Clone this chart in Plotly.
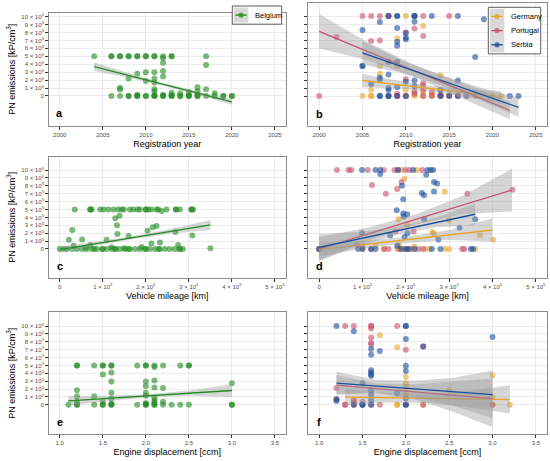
import plotly.graph_objects as go

# ---- data (x, PN emissions) ----
a_belgium = [(2004, 5000), (2006, 5000), (2006, 5000), (2007, 5000), (2007, 5000), (2008, 5000), (2008, 5000),
             (2009, 5000), (2009, 5000), (2010, 5000), (2010, 5000), (2011, 5000), (2011, 5000), (2012, 5000),
             (2013, 5000), (2013, 5000), (2017, 5000),
             (2012, 4800), (2012, 4200), (2012, 3150), (2012, 2450), (2017, 3900), (2008, 2200), (2009, 2800),
             (2010, 3000), (2010, 1900), (2011, 3000), (2011, 2200), (2011, 1700), (2011, 850), (2011, 600),
             (2007, 1050), (2007, 800), (2016, 1100), (2016, 600), (2017, 850), (2018, 350), (2013, 400),
             (2014, 350), (2015, 500),
             (2006, 0), (2007, 0), (2008, 0), (2008, 0), (2009, 0), (2009, 0), (2010, 0), (2010, 0), (2011, 0),
             (2011, 0), (2012, 0), (2012, 0), (2013, 0), (2013, 0), (2014, 0), (2014, 0), (2015, 0), (2015, 0),
             (2016, 0), (2016, 0), (2017, 0), (2018, 0), (2019, 0), (2019, 0), (2020, 0), (2020, 0),
             (2009, 150), (2011, 100), (2012, 150), (2013, 100), (2015, 100), (2016, 200)]

b_germany = [(2010, 10000), (2012, 8800), (2009, 7200), (2007, 3750), (2009, 3750), (2007, 2800), (2006, 800),
             (2010, 750), (2014, 2600), (2012, 500), (2011, 300), (2015, 200), (2016, 100), (2005, 0), (2006, 0),
             (2006, 0), (2010, 0), (2011, 0), (2012, 0), (2013, 0), (2018, 0), (2020, 0), (2021, 0), (2013, 200)]
b_portugal = [(2005, 10000), (2006, 10000), (2007, 10000), (2008, 10000), (2008, 10000), (2011, 10000),
              (2012, 10000), (2015, 10000), (2011, 8450), (2010, 7950), (2002, 7400), (2006, 6900), (2007, 6950),
              (2012, 7500), (2010, 2100), (2012, 1600), (2012, 1300), (2012, 750), (2013, 500), (2011, 600),
              (2000, 0), (2008, 0), (2009, 0), (2009, 0), (2010, 0), (2014, 0), (2014, 0), (2015, 0), (2016, 0),
              (2012, 0), (2013, 0), (2011, 300), (2009, 300), (2014, 250)]
b_serbia = [(2008, 10000), (2009, 10000), (2009, 10000), (2011, 10000), (2011, 10000), (2013, 10000),
            (2016, 10000), (2019, 9600), (2007, 9250), (2011, 9300), (2005, 8250), (2009, 8500), (2009, 6800),
            (2009, 6300), (2010, 7100), (2010, 7300), (2010, 7900), (2018, 4900), (2005, 3750), (2005, 3750),
            (2008, 4300), (2009, 4300), (2007, 2100), (2007, 2300), (2008, 2700), (2006, 1500), (2010, 1800),
            (2011, 1950), (2016, 1950), (2008, 750), (2009, 1100), (2011, 1250), (2014, 750), (2008, 1000),
            (2007, 0), (2007, 0), (2008, 0), (2008, 0), (2016, 0), (2017, 0), (2022, 0), (2023, 0), (2009, 0),
            (2010, 0), (2014, 0), (2015, 0)]

c_belgium = [(35000, 5000), (71000, 5000), (71000, 5000), (74000, 5000), (94000, 5000), (102000, 5000),
             (113000, 5000), (125000, 5000), (136000, 5000), (144000, 5000), (149000, 5000), (163000, 5000),
             (171000, 5000), (181000, 5000), (186000, 5000), (200000, 5000), (200000, 5000), (206000, 5000),
             (213000, 5000), (225000, 5000), (229000, 5000), (248000, 5000), (270000, 5000), (270000, 5000),
             (279000, 5000), (306000, 5000), (306000, 5000), (310000, 5000), (237000, 4800),
             (129000, 3900), (139000, 4200), (133000, 3000), (29000, 2400), (21000, 1150), (52000, 1200),
             (134000, 1900), (160000, 1650), (109000, 1150), (204000, 2300), (216000, 2750), (225000, 2900),
             (213000, 700), (233000, 800), (269000, 2150), (308000, 1700), (275000, 500), (71000, 500),
             (32000, 400), (350000, 100), (279000, 0),
             (0, 0), (9000, 0), (17000, 0), (29000, 0), (40000, 0), (52000, 0), (63000, 0), (75000, 0),
             (86000, 0), (98000, 0), (109000, 0), (121000, 0), (129000, 0), (140000, 0), (152000, 0),
             (163000, 0), (175000, 0), (186000, 0), (198000, 0), (209000, 0), (221000, 0), (232000, 0),
             (244000, 0), (255000, 0), (267000, 0), (278000, 0), (286000, 0), (80000, 0), (100000, 0),
             (130000, 0), (160000, 0), (200000, 0), (230000, 0),
             (60000, 150), (120000, 200), (190000, 250), (150000, 100)]

d_germany = [(190000, 10000), (225000, 10000), (197000, 8900), (290000, 7250), (183000, 3750), (300000, 3650),
             (203000, 3100), (261000, 2150), (265000, 2000), (371000, 1750), (402000, 1150), (130000, 400),
             (100000, 0), (180000, 0), (200000, 0), (210000, 0), (220000, 0), (245000, 0), (255000, 0),
             (290000, 0), (300000, 0), (360000, 0), (150000, 0), (195000, 0), (220000, 300), (185000, 500),
             (0, 0)]
d_portugal = [(41000, 10000), (68000, 10000), (74000, 10000), (112000, 10000), (149000, 10000),
              (174000, 10000), (182000, 10000), (199000, 10000), (208000, 10000), (238000, 10000),
              (190000, 8500), (122000, 8100), (180000, 7600), (154000, 7000), (342000, 7000), (446000, 7500),
              (176000, 2200), (218000, 2200), (87000, 500), (0, 0), (150000, 0), (160000, 0), (185000, 0),
              (210000, 0), (230000, 0), (330000, 0), (335000, 0), (240000, 0), (120000, 0), (100000, 300)]
d_serbia = [(99000, 10000), (130000, 10000), (141000, 10000), (182000, 10000), (217000, 10000), (250000, 10000),
            (257000, 10000), (263000, 10000), (141000, 9500), (247000, 9400), (191000, 8000), (265000, 8500),
            (272000, 8300), (237000, 7100), (242000, 6800), (265000, 7300), (194000, 6300), (179000, 4900),
            (194000, 4500), (203000, 4400), (195000, 4100), (242000, 3800), (360000, 3750), (324000, 2700),
            (204000, 2000), (99000, 2000), (164000, 1700), (197000, 1500), (275000, 1200), (90000, 0),
            (100000, 0), (120000, 0), (190000, 0), (200000, 0), (205000, 0), (260000, 0), (280000, 0),
            (350000, 0), (355000, 0), (130000, 0), (220000, 0), (0, 0), (180000, 400)]

e_belgium = [(1.2, 5000), (1.2, 5000), (1.4, 5000), (1.5, 5000), (1.5, 5000), (1.6, 5000), (1.6, 5000),
             (1.9, 5000), (2.0, 5000), (2.0, 5000), (2.1, 5000), (2.2, 5000), (2.4, 5000), (2.5, 5000),
             (2.5, 5000), (2.1, 4800), (1.5, 3850), (1.6, 4100), (1.6, 2970), (2.0, 2970), (2.0, 2400),
             (2.1, 3100), (2.1, 2200), (2.2, 2150), (3.0, 2750), (1.2, 1850), (1.2, 1100), (1.4, 1100),
             (1.6, 1550), (1.6, 800), (2.0, 1550), (2.0, 1150), (2.1, 900), (2.1, 600), (2.2, 400), (1.5, 400),
             (1.2, 400), (1.1, 0), (1.2, 0), (1.2, 0), (1.4, 0), (1.5, 0), (1.5, 0), (1.6, 0), (1.6, 0),
             (1.9, 0), (2.0, 0), (2.0, 0), (2.1, 0), (2.1, 0), (2.2, 0), (2.3, 0), (2.4, 0), (2.5, 0),
             (3.0, 0), (3.0, 0), (1.6, 150), (2.0, 200), (2.0, 100), (2.1, 300)]

f_germany = [(1.7, 8850), (1.9, 7300), (2.0, 3550), (2.0, 2700), (2.0, 2300), (2.0, 1600), (3.0, 3750),
             (2.5, 1850), (3.0, 1000), (1.4, 500), (1.9, 0), (1.9, 0), (2.0, 0), (2.2, 0), (3.0, 0), (3.2, 0),
             (1.4, 0), (2.0, 1200)]
f_portugal = [(1.3, 10000), (1.4, 10000), (1.6, 10000), (1.6, 10000), (1.9, 10000), (1.6, 9700), (1.6, 8550),
              (1.6, 7900), (1.6, 7650), (2.0, 7000), (2.2, 7400), (1.2, 2150), (1.2, 700), (1.4, 600),
              (1.5, 400), (1.4, 300), (1.3, 0), (1.3, 0), (1.6, 0), (1.7, 0), (2.2, 0), (1.5, 0), (1.4, 0),
              (3.0, 0)]
f_serbia = [(1.2, 10000), (2.0, 10000), (2.0, 10000), (1.4, 9350), (1.6, 7100), (1.6, 6350), (1.7, 6850),
            (2.0, 8350), (2.2, 7400), (3.0, 8600), (2.0, 4950), (2.0, 4300), (1.6, 4400), (1.6, 4100),
            (1.6, 3850), (1.6, 3700), (1.5, 2750), (1.6, 1850), (1.6, 1300), (1.9, 1450), (2.0, 800),
            (1.6, 600), (1.2, 700), (1.4, 0), (1.5, 0), (1.5, 0), (2.0, 0), (2.0, 0), (1.6, 0), (1.2, 500)]

# ---- linear fits with confidence band ----
a_bel_fit = dict(x=[2004, 2008, 2012, 2016, 2020], line=[3700, -750],
                 lo=[3150, 2300, 1300, 150, -1100], hi=[4250, 2900, 1650, 600, -450])
b_ger_fit = dict(x=[2005, 2009, 2013, 2017, 2021], line=[1950, -100],
                 lo=[1100, 950, 600, -100, -850], hi=[2800, 1950, 1250, 900, 650])
b_por_fit = dict(x=[2000, 2005.5, 2011, 2016.5, 2022], line=[8100, -1800],
                 lo=[5950, 4500, 2400, -300, -2900], hi=[10250, 6800, 3900, 1700, -700])
b_ser_fit = dict(x=[2005, 2009.5, 2014, 2018.5, 2023], line=[5400, -1400],
                 lo=[3950, 2900, 1400, -500, -2600], hi=[6850, 4500, 2600, 1100, -200])
c_bel_fit = dict(x=[0, 87500, 175000, 262500, 350000], line=[-100, 3050],
                 lo=[-500, 450, 1280, 1950, 2400], hi=[300, 930, 1680, 2600, 3670])
d_ger_fit = dict(x=[0, 100000, 200000, 300000, 400000], line=[-100, 2400],
                 lo=[-1000, 50, 750, 1150, 900], hi=[800, 1000, 1550, 2400, 3900])
d_por_fit = dict(x=[0, 110000, 220000, 330000, 445000], line=[0, 7470],
                 lo=[-1500, 1000, 3050, 4400, 4750], hi=[1500, 2700, 4350, 6700, 10200])
d_ser_fit = dict(x=[0, 90000, 180000, 270000, 360000], line=[200, 4400],
                 lo=[-1500, 400, 1800, 2750, 3000], hi=[1900, 2100, 2800, 3950, 5800])
e_bel_fit = dict(x=[1.1, 1.575, 2.05, 2.525, 3.0], line=[500, 1820],
                 lo=[-100, 500, 950, 1150, 1000], hi=[1100, 1150, 1370, 1850, 2650])
f_ger_fit = dict(x=[1.3, 1.775, 2.25, 2.725, 3.2], line=[970, 680],
                 lo=[-100, 300, 250, -300, -1100], hi=[2000, 1500, 1400, 1800, 2500])
f_por_fit = dict(x=[1.2, 1.65, 2.1, 2.55, 3.0], line=[2500, 800],
                 lo=[1400, 1500, 700, -900, -2800], hi=[3750, 2700, 2600, 3000, 3350])
f_ser_fit = dict(x=[1.2, 1.65, 2.1, 2.55, 3.0], line=[2750, 1300],
                 lo=[1250, 1600, 1000, -100, -1700], hi=[4200, 3200, 3050, 3450, 4350])

year_ticks = [2000, 2005, 2010, 2015, 2020, 2025]
mileage_ticks = [0, 100000, 200000, 300000, 400000, 500000]
mileage_labels = ["0", "1 × 10<sup>5</sup>", "2 × 10<sup>5</sup>", "3 × 10<sup>5</sup>",
                  "4 × 10<sup>5</sup>", "5 × 10<sup>5</sup>"]
disp_ticks = [1.0, 1.5, 2.0, 2.5, 3.0, 3.5]
pn_ticks = [0, 1000, 2000, 3000, 4000, 5000, 6000, 7000, 8000, 9000, 10000]
pn_labels = ["0", "1 × 10<sup>3</sup>", "2 × 10<sup>3</sup>", "3 × 10<sup>3</sup>", "4 × 10<sup>3</sup>",
             "5 × 10<sup>3</sup>", "6 × 10<sup>3</sup>", "7 × 10<sup>3</sup>", "8 × 10<sup>3</sup>",
             "9 × 10<sup>3</sup>", "10 × 10<sup>3</sup>"]
legend_left = ["Belgium"]
legend_right = ["Germany", "Portugal", "Serbia"]

GREEN = "#228B22"
COLORS = {"Belgium": GREEN, "Germany": "#E8A628", "Portugal": "#C8506C", "Serbia": "#1A4E9E"}
FONT = "Liberation Sans, Arial, sans-serif"
W, H = 550, 461

fig = go.Figure()


def axis_ids(n):
    return ("x" if n == 1 else "x%d" % n), ("y" if n == 1 else "y%d" % n)


def add_points(n, pts, color):
    xa, ya = axis_ids(n)
    fig.add_trace(go.Scatter(x=[p[0] for p in pts], y=[p[1] for p in pts], mode="markers",
                             marker=dict(color=color, size=6, opacity=0.6, line=dict(width=0)),
                             xaxis=xa, yaxis=ya, showlegend=False, hoverinfo="skip"))


def add_fit(n, fit, color):
    xa, ya = axis_ids(n)
    fig.add_trace(go.Scatter(x=fit["x"] + fit["x"][::-1], y=fit["hi"] + fit["lo"][::-1],
                             fill="toself", fillcolor="rgba(153,153,153,0.4)", line=dict(width=0),
                             mode="lines", xaxis=xa, yaxis=ya, showlegend=False, hoverinfo="skip"))
    fig.add_trace(go.Scatter(x=[fit["x"][0], fit["x"][-1]], y=fit["line"], mode="lines",
                             line=dict(color=color, width=1.3), xaxis=xa, yaxis=ya,
                             showlegend=False, hoverinfo="skip"))


# points first, then bands and lines on top (as geom_smooth does)
add_points(1, a_belgium, GREEN)
add_points(2, b_germany, COLORS["Germany"])
add_points(2, b_portugal, COLORS["Portugal"])
add_points(2, b_serbia, COLORS["Serbia"])
add_points(3, c_belgium, GREEN)
add_points(4, d_germany, COLORS["Germany"])
add_points(4, d_portugal, COLORS["Portugal"])
add_points(4, d_serbia, COLORS["Serbia"])
add_points(5, e_belgium, GREEN)
add_points(6, f_germany, COLORS["Germany"])
add_points(6, f_portugal, COLORS["Portugal"])
add_points(6, f_serbia, COLORS["Serbia"])

add_fit(1, a_bel_fit, GREEN)
add_fit(2, b_ger_fit, COLORS["Germany"])
add_fit(2, b_por_fit, COLORS["Portugal"])
add_fit(2, b_ser_fit, COLORS["Serbia"])
add_fit(3, c_bel_fit, GREEN)
add_fit(4, d_ger_fit, COLORS["Germany"])
add_fit(4, d_por_fit, COLORS["Portugal"])
add_fit(4, d_ser_fit, COLORS["Serbia"])
add_fit(5, e_bel_fit, GREEN)
add_fit(6, f_ger_fit, COLORS["Germany"])
add_fit(6, f_por_fit, COLORS["Portugal"])
add_fit(6, f_ser_fit, COLORS["Serbia"])

# panel boxes in pixels: (left, right, top, bottom)
boxes = {1: (49, 285.7, 12.7, 125.7), 2: (308.3, 546.7, 3.3, 125.7),
         3: (49, 285.7, 156.7, 277.7), 4: (308.3, 546.7, 156.7, 277.7),
         5: (49, 285.7, 312.3, 434.0), 6: (308.3, 546.7, 312.3, 434.0)}
x_ranges = {1: [1998.75, 2026.25], 2: [1998.75, 2026.25], 3: [-25000, 525000], 4: [-25000, 525000],
            5: [0.875, 3.625], 6: [0.875, 3.625]}
y_ranges = {1: [-3750, 10500], 2: [-3700, 11600], 3: [-3650, 11700], 4: [-3650, 11700],
            5: [-3700, 11750], 6: [-3700, 11750]}
x_titles = {1: "Registration year", 2: "Registration year", 3: "Vehicle mileage [km]",
            4: "Vehicle mileage [km]", 5: "Engine displacement [ccm]", 6: "Engine displacement [ccm]"}

layout = dict(width=W, height=H, margin=dict(l=0, r=0, t=0, b=0), showlegend=False,
              paper_bgcolor="white", plot_bgcolor="white", font=dict(family=FONT, color="black"))

common = dict(showline=True, mirror=True, linecolor="#8C8C8C", linewidth=0.8, ticks="outside",
              ticklen=3, tickwidth=0.6, tickcolor="#333333", showgrid=True, gridcolor="#EBEBEB",
              gridwidth=0.6, zeroline=False, tickfont=dict(size=6, color="#4D4D4D", family=FONT))

for n in range(1, 7):
    l, r, t, b = boxes[n]
    xkey = "xaxis" if n == 1 else "xaxis%d" % n
    ykey = "yaxis" if n == 1 else "yaxis%d" % n
    xa, ya = axis_ids(n)
    xax = dict(common, domain=[l / W, r / W], range=x_ranges[n], anchor=ya,
               title=dict(text=x_titles[n], font=dict(size=9, color="black"), standoff=3))
    if n in (1, 2):
        xax.update(tickvals=year_ticks, ticktext=[str(v) for v in year_ticks])
    elif n in (3, 4):
        xax.update(tickvals=mileage_ticks, ticktext=mileage_labels)
    else:
        xax.update(tickvals=disp_ticks, ticktext=["%.1f" % v for v in disp_ticks])
    yax = dict(common, domain=[1 - b / H, 1 - t / H], range=y_ranges[n], anchor=xa,
               tickvals=pn_ticks, ticktext=pn_labels)
    if n % 2 == 1:
        yax["title"] = dict(text="PN emissions [kP/cm<sup>3</sup>]", font=dict(size=9, color="black"),
                            standoff=4)
    else:
        yax["showticklabels"] = False
    layout[xkey] = xax
    layout[ykey] = yax

fig.update_layout(**layout)


# ggplot-style legend boxes (grey key column, line with dot, label), placed in pixels
def px(x):
    return x / W


def py(y):
    return 1 - y / H


def draw_legend(names, left, top, right, key_w=14.5, row_h=14.2):
    bottom = top + 4 + row_h * len(names)
    fig.add_shape(type="rect", xref="paper", yref="paper", x0=px(left), x1=px(right), y0=py(bottom),
                  y1=py(top), fillcolor="white", line=dict(color="#333333", width=0.8))
    fig.add_shape(type="rect", xref="paper", yref="paper", x0=px(left + 1.5), x1=px(left + 1.5 + key_w),
                  y0=py(bottom - 1.5), y1=py(top + 1.5), fillcolor="#D9D9D9", line=dict(width=0))
    for i, name in enumerate(names):
        cy = top + 2 + row_h * (i + 0.5)
        cx = left + 1.5 + key_w / 2
        fig.add_shape(type="line", xref="paper", yref="paper", x0=px(left + 3), x1=px(left + key_w),
                      y0=py(cy), y1=py(cy), line=dict(color=COLORS[name], width=1.3))
        fig.add_shape(type="circle", xref="paper", yref="paper", x0=px(cx - 2.6), x1=px(cx + 2.6),
                      y0=py(cy + 2.6), y1=py(cy - 2.6), fillcolor=COLORS[name], opacity=0.75,
                      line=dict(width=0))
        fig.add_annotation(x=px(left + key_w + 6), y=py(cy), xref="paper", yref="paper", text=name,
                           showarrow=False, xanchor="left", yanchor="middle",
                           font=dict(size=7.5, family=FONT, color="black"))


draw_legend(legend_left, 232.3, 6.0, 281.7)
draw_legend(legend_right, 488.3, 7.3, 540.7)

# panel letters
for n, (letter, xpos) in enumerate([("a", 2000), ("b", 2000), ("c", 0), ("d", 0), ("e", 1.0), ("f", 1.0)], 1):
    xa, ya = axis_ids(n)
    fig.add_annotation(x=xpos, y=-2200, xref=xa, yref=ya, text="<b>%s</b>" % letter, showarrow=False,
                       font=dict(size=11, family=FONT, color="black"))

# the page body has a default 8px margin; remove it so the figure sits at the window origin
fig.write_html("out.html", config={"displayModeBar": False},
               post_script="document.body.style.margin='0px';")
